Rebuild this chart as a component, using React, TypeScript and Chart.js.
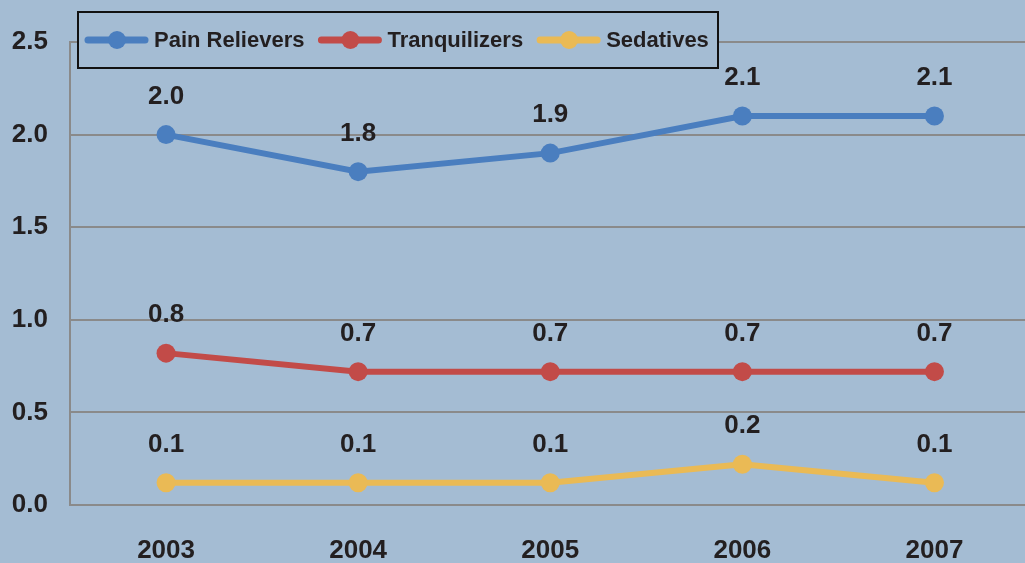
import React, { useEffect, useRef } from "react";
import { Chart, registerables } from "chart.js";

Chart.register(...registerables);

const categories = ["2003", "2004", "2005", "2006", "2007"];
const painRelievers = [2.0, 1.8, 1.9, 2.1, 2.1];
const tranquilizers = [0.82, 0.72, 0.72, 0.72, 0.72];
const sedatives = [0.12, 0.12, 0.12, 0.22, 0.12];
const seriesNames = ["Pain Relievers", "Tranquilizers", "Sedatives"];
const seriesColors = ["#4A7EBF", "#C24B48", "#EABA55"];

const BG = "#A4BCD3";
const TEXT = "#231F20";
const FONT = "'Liberation Sans', Arial, Helvetica, sans-serif";

const overlayPlugin = {
  id: "overlay",
  afterDatasetsDraw(chart: any) {
    const ctx = chart.ctx;
    ctx.save();
    // data labels
    ctx.font = `bold 26px ${FONT}`;
    ctx.fillStyle = TEXT;
    ctx.textAlign = "center";
    ctx.textBaseline = "middle";
    chart.data.datasets.forEach((ds: any, i: number) => {
      const meta = chart.getDatasetMeta(i);
      meta.data.forEach((pt: any, j: number) => {
        ctx.fillText(Number(ds.data[j]).toFixed(1), pt.x, pt.y - 38);
      });
    });
    // legend
    const boxL = 78, boxT = 12, boxR = 718, boxB = 68;
    ctx.fillStyle = BG;
    ctx.fillRect(boxL, boxT, boxR - boxL, boxB - boxT);
    ctx.strokeStyle = "#111111";
    ctx.lineWidth = 2;
    ctx.strokeRect(boxL, boxT, boxR - boxL, boxB - boxT);
    ctx.font = `bold 22px ${FONT}`;
    ctx.textAlign = "left";
    ctx.textBaseline = "middle";
    let x = 85;
    const cy = 40;
    chart.data.datasets.forEach((ds: any, i: number) => {
      ctx.strokeStyle = ds.borderColor;
      ctx.lineWidth = 7;
      ctx.lineCap = "round";
      ctx.beginPath();
      ctx.moveTo(x + 3, cy);
      ctx.lineTo(x + 60, cy);
      ctx.stroke();
      ctx.fillStyle = ds.borderColor;
      ctx.beginPath();
      ctx.arc(x + 32, cy, 9, 0, Math.PI * 2);
      ctx.fill();
      ctx.fillStyle = TEXT;
      ctx.fillText(ds.label, x + 69, cy + 1);
      x = x + 69 + ctx.measureText(ds.label).width + 14;
    });
    ctx.restore();
  },
};

const bgPlugin = {
  id: "bg",
  beforeDraw(chart: any) {
    const ctx = chart.ctx;
    ctx.save();
    ctx.fillStyle = BG;
    ctx.fillRect(0, 0, chart.width, chart.height);
    ctx.restore();
  },
};

export default function App() {
  const ref = useRef<HTMLCanvasElement | null>(null);
  useEffect(() => {
    if (!ref.current) return;
    const values = [painRelievers, tranquilizers, sedatives];
    const chart = new Chart(ref.current, {
      type: "line",
      data: {
        labels: categories,
        datasets: values.map((d, i) => ({
          label: seriesNames[i],
          data: d,
          borderColor: seriesColors[i],
          backgroundColor: seriesColors[i],
          pointBackgroundColor: seriesColors[i],
          pointBorderColor: seriesColors[i],
          borderWidth: 6,
          pointRadius: 9.5,
          pointBorderWidth: 0,
          tension: 0,
          fill: false,
        })),
      },
      options: {
        responsive: false,
        animation: false,
        events: [],
        layout: { padding: { top: 42, right: 2, left: 0, bottom: 0 } },
        plugins: {
          legend: { display: false },
          tooltip: { enabled: false },
          title: { display: false },
        },
        scales: {
          x: {
            offset: true,
            grid: { display: false, drawTicks: false },
            border: { display: false },
            ticks: {
              color: TEXT,
              font: { family: FONT, size: 26, weight: "bold" },
              padding: 30,
            },
            afterFit(scale: any) {
              scale.height = 58;
            },
          },
          y: {
            min: 0,
            max: 2.5,
            grid: { color: "#8A8A8A", lineWidth: 2, drawTicks: false },
            border: { display: true, color: "#8A8A8A", width: 2 },
            ticks: {
              stepSize: 0.5,
              color: TEXT,
              font: { family: FONT, size: 26, weight: "bold" },
              padding: 22,
              callback: (v: any) => Number(v).toFixed(1),
            },
            afterFit(scale: any) {
              scale.width = 70;
            },
          },
        },
      },
      plugins: [bgPlugin, overlayPlugin],
    } as any);
    return () => chart.destroy();
  }, []);
  return (
    <div
      style={{
        position: "fixed",
        left: 0,
        top: 0,
        width: 1025,
        height: 563,
        overflow: "hidden",
        background: BG,
      }}
    >
      <canvas ref={ref} width={1040} height={563} style={{ width: 1040, height: 563, display: "block" }} />
    </div>
  );
}
